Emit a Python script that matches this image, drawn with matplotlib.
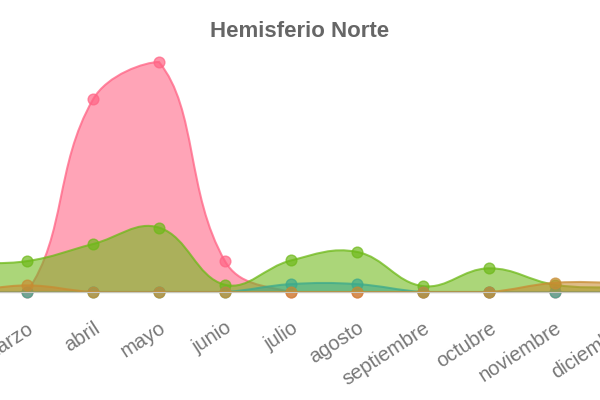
import numpy as np
import matplotlib.pyplot as plt
from matplotlib.path import Path
from matplotlib.patches import PathPatch

plt.rcParams['font.family'] = ['Liberation Sans', 'DejaVu Sans']

# datos
meses = ['enero', 'febrero', 'marzo', 'abril', 'mayo', 'junio', 'julio',
         'agosto', 'septiembre', 'octubre', 'noviembre', 'diciembre']
rosa = [0, 0, 0, 29.3, 35.0, 4.7, 0, 0, 0, 0, 0, 0]
verde = [3.8, 4.4, 4.7, 7.3, 9.8, 1.1, 4.8, 6.1, 0.9, 3.6, 1.1, 0.6]
turquesa = [0, 0, 0, 0, 0, 0, 1.2, 1.2, 0, 0, 0, 0]
naranja = [0, 0, 1.0, 0, 0, 0, 0, 0, 0, 0, 1.4, 1.4]

fig = plt.figure(figsize=(6, 4), dpi=100)
ax = fig.add_axes([0, 0.27, 1, 0.575])
label_kw = dict(rotation=33, ha='right', va='top', rotation_mode='anchor',
                fontsize=14.5, color='#777777')
ax.set_xticks(range(len(meses)))
ax.set_xticklabels(meses, **label_kw)
ax.tick_params(axis='x', length=0, pad=19)
ax.set_xlim(2 - 27 / 66, 2 + 573 / 66)
ax.set_ylim(0, max(rosa))

# la ultima etiqueta queda fuera del area, se dibuja a mano (cortada en el borde)
ax.annotate(meses[-1], xy=(len(meses) - 1, 0), xycoords=ax.get_xaxis_transform(),
            xytext=(0, -19), textcoords='offset points', annotation_clip=False,
            **label_kw)


def spline_path(ys, t=0.4):
    # curva tipo Chart.js (bezier con tension) calculada en pixeles
    xs = np.arange(len(ys))
    p = ax.transData.transform(np.column_stack([xs, ys]))
    n = len(p)
    verts = [ax.transData.transform((0, 0)), p[0]]
    codes = [Path.MOVETO, Path.LINETO]
    ctrl_prev, ctrl_next = [], []
    for i in range(n):
        a = p[i - 1] if i > 0 else p[i]
        b = p[i]
        c = p[i + 1] if i < n - 1 else p[i]
        d01 = np.hypot(*(b - a))
        d12 = np.hypot(*(c - b))
        tot = d01 + d12 if d01 + d12 > 0 else 1
        fa = t * d01 / tot
        fb = t * d12 / tot
        ctrl_prev.append(b - fa * (c - a))
        ctrl_next.append(b + fb * (c - a))
    y0 = ax.transData.transform((0, 0))[1]
    y1 = ax.transData.transform((0, ax.get_ylim()[1]))[1]
    for i in range(n - 1):
        c1 = ctrl_next[i].copy()
        c2 = ctrl_prev[i + 1].copy()
        c1[1] = min(max(c1[1], y0), y1)
        c2[1] = min(max(c2[1], y0), y1)
        verts += [c1, c2, p[i + 1]]
        codes += [Path.CURVE4] * 3
    line = Path(ax.transData.inverted().transform(np.array(verts[1:])),
                [Path.MOVETO] + codes[2:])
    verts += [ax.transData.transform((n - 1, 0))]
    codes += [Path.LINETO]
    area = Path(ax.transData.inverted().transform(np.array(verts)), codes)
    return line, area


series = [
    (rosa, (255/255, 99/255, 132/255), 1),
    (verde, (110/255, 185/255, 25/255), 2),
    (turquesa, (60/255, 170/255, 140/255), 3),
    (naranja, (200/255, 140/255, 50/255), 4),
]

for ys, col, z in series:
    line, area = spline_path(ys)
    ax.add_patch(PathPatch(area, facecolor=col, edgecolor='none', alpha=0.58,
                           zorder=z, clip_on=False))
    ax.add_patch(PathPatch(line, facecolor='none', edgecolor=col, alpha=0.75,
                           linewidth=1.5, zorder=z + 0.1, clip_on=False))
    ax.scatter(range(len(ys)), ys, s=60, color=col, alpha=0.7,
               edgecolors=col, linewidths=1, zorder=z + 0.2, clip_on=False)

ax.set_yticks([])
for s in ['top', 'left', 'right']:
    ax.spines[s].set_visible(False)
ax.spines['bottom'].set_color('#c8c8c0')
ax.spines['bottom'].set_zorder(10)

fig.text(0.5, 0.922, 'Hemisferio Norte', ha='center', va='center',
         fontsize=16, fontweight='bold', color='#666666')

plt.savefig('out.png', dpi=100)
